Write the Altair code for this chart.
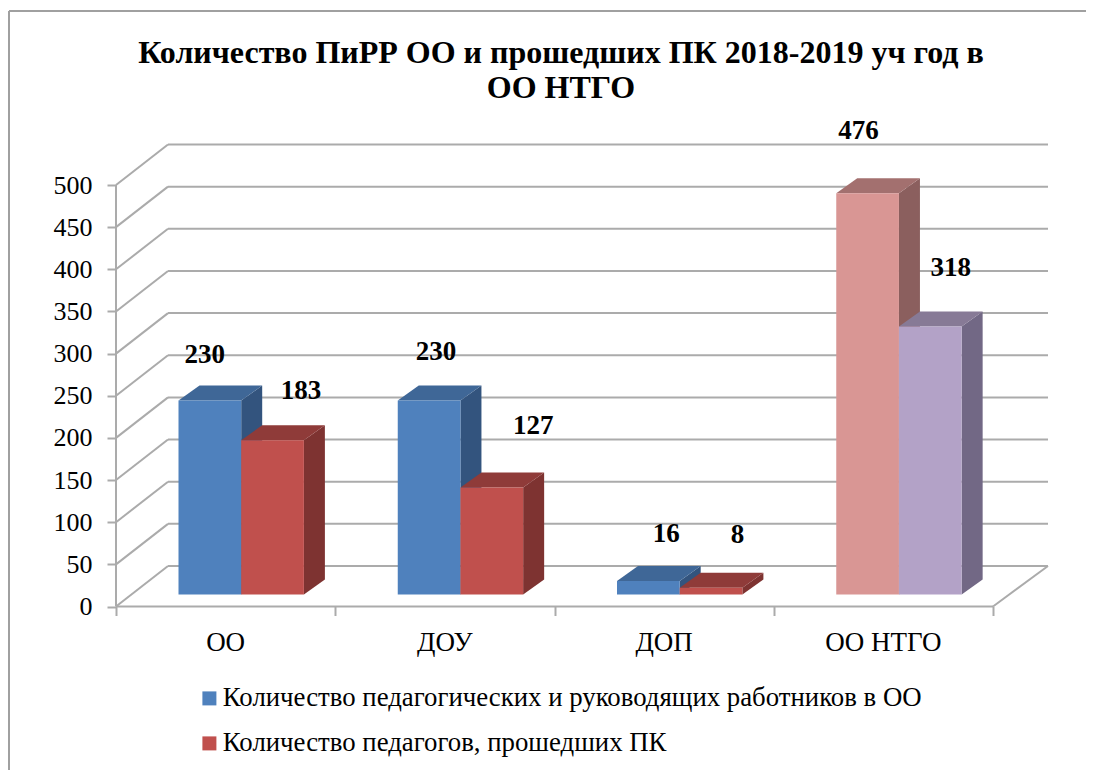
import altair as alt
import pandas as pd

# ---- values ----
CATEGORIES = ["ОО", "ДОУ", "ДОП", "ОО НТГО"]
SERIES_A = "Количество педагогических и руководящих работников в ОО"
SERIES_B = "Количество педагогов, прошедших ПК"
VALUES_A = [230, 230, 16, 476]
VALUES_B = [183, 127, 8, 318]
Y_TICKS = [0, 50, 100, 150, 200, 250, 300, 350, 400, 450, 500]
TITLE_LINES = ["Количество ПиРР ОО и прошедших ПК 2018-2019 уч год в", "ОО НТГО"]

# ---- styling / geometry of the fake 3-D box ----
W, H = 1078, 762
PX_X0, PX_PER_CAT = 116.0, 219.25      # page x of category 0, px per category
PX_Y0, PX_PER_VAL = 606.5, 0.843       # page y of value 0, px per value
X_DOMAIN = [(8 - PX_X0) / PX_PER_CAT, (8 + W - PX_X0) / PX_PER_CAT]
Y_DOMAIN = [(PX_Y0 - 8 - H) / PX_PER_VAL, (PX_Y0 - 8) / PX_PER_VAL]
def px(n): return n / PX_PER_CAT       # horizontal pixels -> category units
def pv(n): return n / PX_PER_VAL       # vertical pixels -> value units

WALL_DX0, WALL_DX1, WALL_DY = px(52), px(55), pv(40.5)
BAR_GAP, BAR_W = px(62.5), px(62.7)
BAR_DX, BAR_DY, BAR_BASE = px(21), pv(15), pv(12)
LINE = "#ABABAB"
FRONT = {"A": "#4F81BD", "B": "#C0504D", "C": "#D99694", "D": "#B3A2C7"}
TOP = {"A": "#3F6797", "B": "#8F3B39", "C": "#A3706F", "D": "#877A96"}
SIDE = {"A": "#33547E", "B": "#7E3331", "C": "#8B5F5E", "D": "#726885"}
# hand-placed data labels in the reference: offset from the bar's top centre, px
NUDGE_X_A, NUDGE_Y_A = [-5, 7, 18, -9], [46, 49, 47, 62]
NUDGE_X_B, NUDGE_Y_B = [28.5, 41.5, 26.5, 20.5], [49, 61, 53, 58]
SERIF = "Liberation Serif"

x_scale = alt.Scale(domain=X_DOMAIN, nice=False, zero=False)
y_scale = alt.Scale(domain=Y_DOMAIN, nice=False, zero=False)
x_axis = alt.Axis(values=[0, 1, 2, 3, 4], labels=False, domain=False, grid=False, title=None,
                  orient="bottom", offset=-(8 + H - PX_Y0), tickColor=LINE, tickWidth=2, tickSize=9)
y_axis = alt.Axis(values=Y_TICKS, domain=False, grid=False, title=None, orient="left",
                  offset=-(PX_X0 - 8), tickColor=LINE, tickWidth=2, tickSize=9, labelPadding=15,
                  labelFont=SERIF, labelFontSize=26, labelColor="black")
def X(f="x"): return alt.X(f"{f}:Q", scale=x_scale, axis=x_axis)
def Y(f="y"): return alt.Y(f"{f}:Q", scale=y_scale, axis=y_axis)

# ---- lines: grid, walls, floor, frame ----
lines = []
for v in Y_TICKS:
    lines.append(dict(x=WALL_DX0, x2=4 + WALL_DX1, y=v + WALL_DY, y2=v + WALL_DY))
    lines.append(dict(x=0, x2=WALL_DX0, y=v, y2=v + WALL_DY))
lines.append(dict(x=0, x2=4, y=0, y2=0))
lines.append(dict(x=0, x2=0, y=0, y2=500))
lines.append(dict(x=4, x2=4 + WALL_DX1, y=0, y2=WALL_DY))
frame = [
    dict(x=X_DOMAIN[0] + px(1), x2=X_DOMAIN[0] + px(1), y=Y_DOMAIN[0], y2=Y_DOMAIN[1] - pv(3)),
    dict(x=X_DOMAIN[0] + px(1), x2=X_DOMAIN[1], y=Y_DOMAIN[1] - pv(3), y2=Y_DOMAIN[1] - pv(3)),
]

axis_layer = alt.Chart(pd.DataFrame(lines)).mark_rule(color=LINE, strokeWidth=2).encode(
    x=X(), x2="x2:Q", y=Y(), y2="y2:Q")
frame_layer = alt.Chart(pd.DataFrame(frame)).mark_rule(color="#A0A0A0", strokeWidth=2).encode(
    x=X(), x2="x2:Q", y=Y(), y2="y2:Q")

SHADE = {"A": SERIES_A, "B": SERIES_B, "C": SERIES_A + " (4)", "D": SERIES_B + " (4)"}

# ---- bars: one side, one top and one front face per bar ----
def bar_layers(values, slot, keys):
    side, top, front = [], [], []
    for i, (v, k) in enumerate(zip(values, keys)):
        x0 = i + BAR_GAP + slot * BAR_W
        x1 = x0 + BAR_W
        y0 = BAR_BASE
        y1 = BAR_BASE + v
        side += [dict(id=i, c=SIDE[k], x=x1, y=y0, y2=y1),
                 dict(id=i, c=SIDE[k], x=x1 + BAR_DX, y=y0 + BAR_DY, y2=y1 + BAR_DY)]
        top += [dict(id=i, c=TOP[k], y=y1, x=x0, x2=x1),
                dict(id=i, c=TOP[k], y=y1 + BAR_DY, x=x0 + BAR_DX, x2=x1 + BAR_DX)]
        front.append(dict(shade=SHADE[k], x=x0, x2=x1, y=y0, y2=y1))
    return [
        alt.Chart(pd.DataFrame(side)).mark_area(orient="vertical", opacity=1).encode(
            x=X(), y=Y(), y2="y2:Q", detail="id:N", color=alt.Color("c:N", scale=None)),
        alt.Chart(pd.DataFrame(top)).mark_area(orient="horizontal", opacity=1).encode(
            y=Y(), x=X(), x2="x2:Q", detail="id:N", color=alt.Color("c:N", scale=None)),
        alt.Chart(pd.DataFrame(front)).mark_rect(opacity=1).encode(
            x=X(), x2="x2:Q", y=Y(), y2="y2:Q",
            fill=alt.Fill("shade:N",
                          scale=alt.Scale(domain=[SHADE[k] for k in "ABCD"], range=[FRONT[k] for k in "ABCD"]),
                          legend=alt.Legend(values=[SERIES_A, SERIES_B], orient="none", legendX=188, legendY=677,
                                            title=None, symbolType="square", symbolSize=196, symbolStrokeWidth=0,
                                            labelFont=SERIF, labelFontSize=26.8, labelColor="black",
                                            labelLimit=900, rowPadding=17, labelOffset=0))),
    ]

layers_a = bar_layers(VALUES_A, 0, "AAAC")
layers_b = bar_layers(VALUES_B, 1, "BBBD")

# ---- text ----
labels = []
for i, (v, nx, ny) in enumerate(zip(VALUES_A, NUDGE_X_A, NUDGE_Y_A)):
    labels.append(dict(t=str(v), x=i + BAR_GAP + BAR_W / 2 + px(nx), y=BAR_BASE + v + pv(ny)))
for i, (v, nx, ny) in enumerate(zip(VALUES_B, NUDGE_X_B, NUDGE_Y_B)):
    labels.append(dict(t=str(v), x=i + BAR_GAP + 1.5 * BAR_W + px(nx), y=BAR_BASE + v + pv(ny)))
label_layer = alt.Chart(pd.DataFrame(labels)).mark_text(
    font=SERIF, fontSize=27, fontWeight="bold", color="black", baseline="middle", align="center"
).encode(x=X(), y=Y(), text="t:N")

cat_df = pd.DataFrame({"t": CATEGORIES, "x": [i + 0.5 for i in range(4)], "y": [pv(-36)] * 4})
cat_layer = alt.Chart(cat_df).mark_text(
    font=SERIF, fontSize=27, color="black", baseline="middle", align="center"
).encode(x=X(), y=Y(), text="t:N")

chart = alt.layer(axis_layer, frame_layer, *layers_a, *layers_b, label_layer, cat_layer).properties(
    width=W, height=H, padding=0,
    autosize=alt.AutoSizeParams(type="none"),
    title=alt.TitleParams(text=TITLE_LINES, orient="top", anchor="start", align="center", dx=553,
                          offset=-97, font=SERIF, fontSize=32, fontWeight="bold", color="black", lineHeight=35),
).configure_view(stroke=None)

chart.save("out.html", embed_options={"renderer": "svg", "actions": False})
